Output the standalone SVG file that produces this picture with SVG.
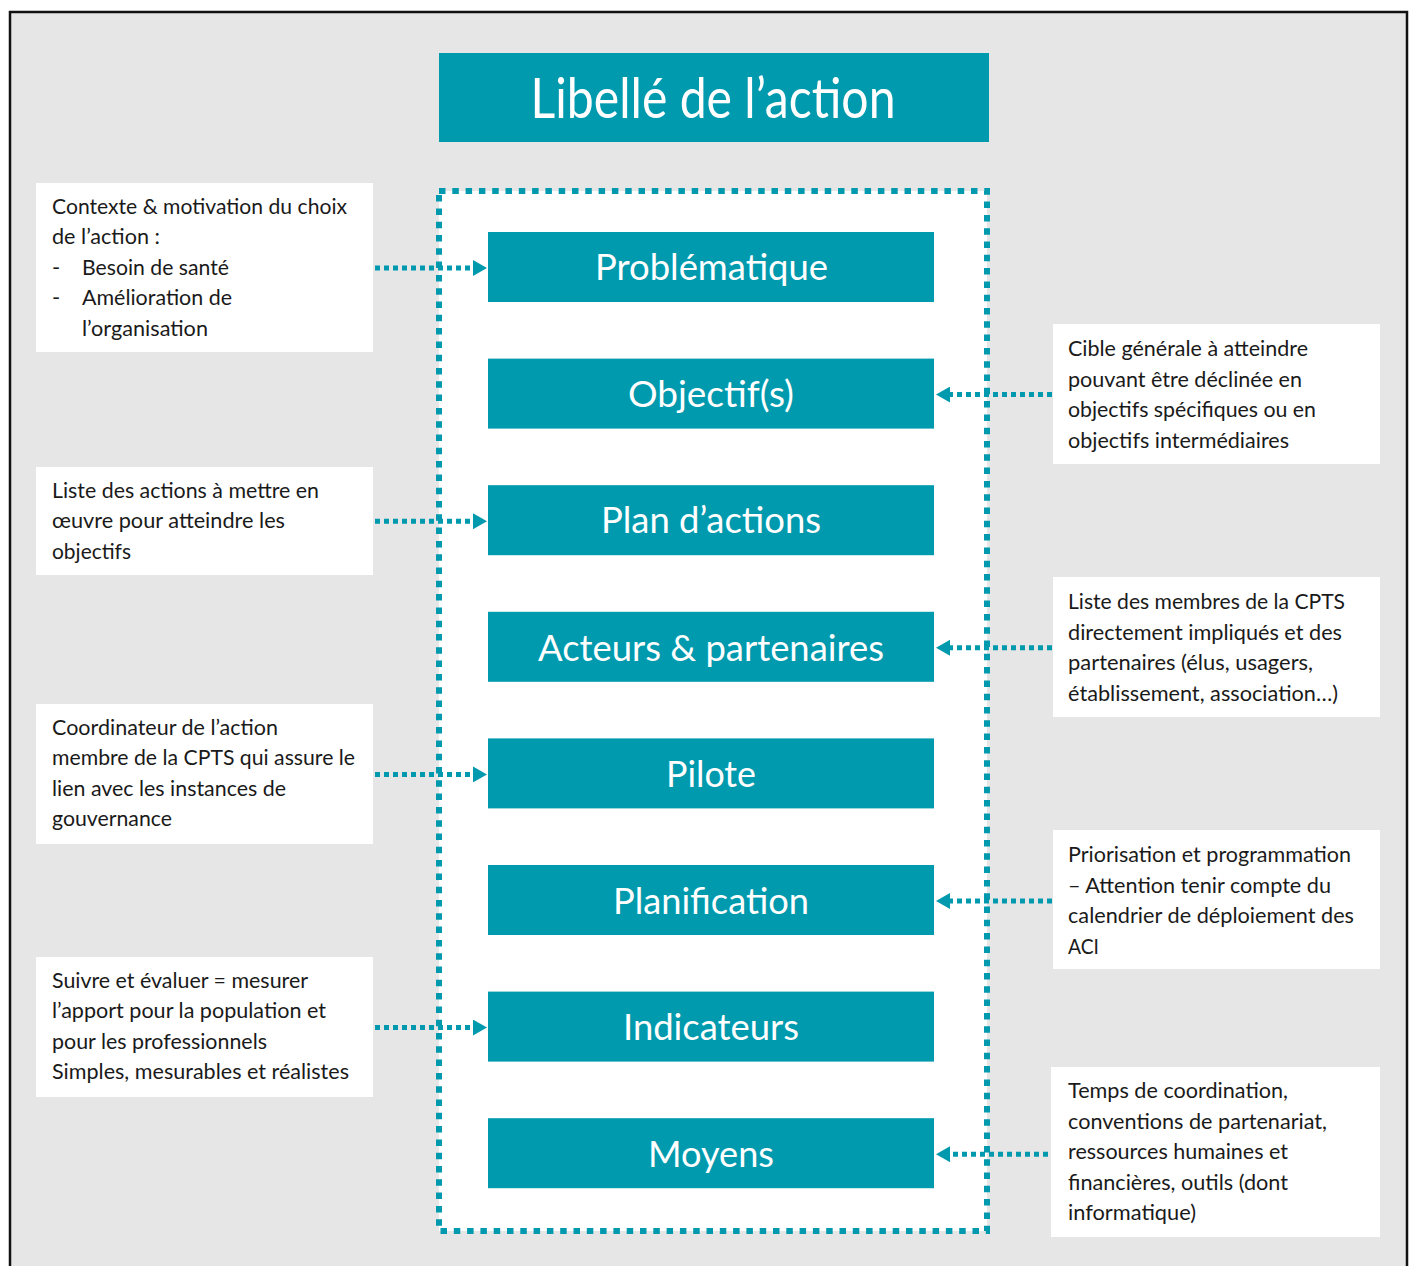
<svg xmlns="http://www.w3.org/2000/svg" width="1412" height="1266" viewBox="0 0 1412 1266">
<style>
.bg{fill:#e6e6e6;stroke:#111;stroke-width:2.5}
.teal{fill:#009aae}
.note{fill:#ffffff}
.lbl{font-family:Lato,"Open Sans",sans-serif;font-size:36px;fill:#ffffff;text-anchor:middle}
.title{font-family:Lato,"Open Sans",sans-serif;font-size:56px;fill:#ffffff;text-anchor:middle}
.nt{font-family:Lato,"Open Sans",sans-serif;font-size:22px;fill:#1a1a1a}
.frame{fill:#ffffff;stroke:#0099ae;stroke-width:6;stroke-dasharray:6.5 6.8}
.conn{fill:none;stroke:#0099ae;stroke-width:5;stroke-dasharray:5 4}
</style>
<defs>
<marker id="ah" viewBox="0 0 14 16" refX="0" refY="8" markerWidth="14" markerHeight="16" markerUnits="userSpaceOnUse" orient="auto">
<path d="M0,0 L14,8 L0,16 z" fill="#0099ae"/>
</marker>
</defs>
<rect x="0" y="0" width="1412" height="1266" fill="#ffffff"/>
<rect class="bg" x="10" y="12" width="1397" height="1270"/>
<rect class="frame" x="439" y="191" width="548" height="1040"/>

<g id="title">
<rect class="teal" x="439" y="53" width="550" height="89"/>
<text class="title" x="713" y="118" textLength="365" lengthAdjust="spacingAndGlyphs">Libellé de l’action</text>
</g>

<g id="problematique">
<rect class="teal" x="488" y="232" width="446" height="70"/>
<text class="lbl" x="711.5" y="280" textLength="233" lengthAdjust="spacingAndGlyphs">Problématique</text>
</g>
<g id="objectifs">
<rect class="teal" x="488" y="358.6" width="446" height="70"/>
<text class="lbl" x="711" y="406.6" textLength="166" lengthAdjust="spacingAndGlyphs">Objectif(s)</text>
</g>
<g id="plan">
<rect class="teal" x="488" y="485.2" width="446" height="70"/>
<text class="lbl" x="711" y="533.2" textLength="220" lengthAdjust="spacingAndGlyphs">Plan d’actions</text>
</g>
<g id="acteurs">
<rect class="teal" x="488" y="611.8" width="446" height="70"/>
<text class="lbl" x="711" y="660.5" textLength="346" lengthAdjust="spacingAndGlyphs">Acteurs &amp; partenaires</text>
</g>
<g id="pilote">
<rect class="teal" x="488" y="738.4" width="446" height="70"/>
<text class="lbl" x="711" y="787" textLength="90" lengthAdjust="spacingAndGlyphs">Pilote</text>
</g>
<g id="planification">
<rect class="teal" x="488" y="865" width="446" height="70"/>
<text class="lbl" x="711" y="913.5" textLength="196" lengthAdjust="spacingAndGlyphs">Planification</text>
</g>
<g id="indicateurs">
<rect class="teal" x="488" y="991.6" width="446" height="70"/>
<text class="lbl" x="711" y="1040" textLength="176" lengthAdjust="spacingAndGlyphs">Indicateurs</text>
</g>
<g id="moyens">
<rect class="teal" x="488" y="1118.2" width="446" height="70"/>
<text class="lbl" x="711" y="1166.7" textLength="126" lengthAdjust="spacingAndGlyphs">Moyens</text>
</g>

<g id="note-contexte">
<rect class="note" x="36" y="183" width="337" height="169"/>
<text class="nt" x="52" y="213.5" textLength="295" lengthAdjust="spacingAndGlyphs">Contexte &amp; motivation du choix</text>
<text class="nt" x="52" y="244.1" textLength="108" lengthAdjust="spacingAndGlyphs">de l’action :</text>
<text class="nt" x="52" y="274.7">-</text>
<text class="nt" x="82" y="274.7" textLength="147" lengthAdjust="spacingAndGlyphs">Besoin de santé</text>
<text class="nt" x="52" y="305.3">-</text>
<text class="nt" x="82" y="305.3" textLength="150" lengthAdjust="spacingAndGlyphs">Amélioration de</text>
<text class="nt" x="82" y="335.9" textLength="126" lengthAdjust="spacingAndGlyphs">l’organisation</text>
</g>
<g id="note-plan">
<rect class="note" x="36" y="467" width="337" height="108"/>
<text class="nt" x="52" y="497.5" textLength="267" lengthAdjust="spacingAndGlyphs">Liste des actions à mettre en</text>
<text class="nt" x="52" y="528.1" textLength="233" lengthAdjust="spacingAndGlyphs">œuvre pour atteindre les</text>
<text class="nt" x="52" y="558.7" textLength="79" lengthAdjust="spacingAndGlyphs">objectifs</text>
</g>
<g id="note-pilote">
<rect class="note" x="36" y="704" width="337" height="140"/>
<text class="nt" x="52" y="734.5" textLength="226" lengthAdjust="spacingAndGlyphs">Coordinateur de l’action</text>
<text class="nt" x="52" y="765.1" textLength="303" lengthAdjust="spacingAndGlyphs">membre de la CPTS qui assure le</text>
<text class="nt" x="52" y="795.7" textLength="234" lengthAdjust="spacingAndGlyphs">lien avec les instances de</text>
<text class="nt" x="52" y="826.3" textLength="120" lengthAdjust="spacingAndGlyphs">gouvernance</text>
</g>
<g id="note-indicateurs">
<rect class="note" x="36" y="957" width="337" height="140"/>
<text class="nt" x="52" y="987.5" textLength="256" lengthAdjust="spacingAndGlyphs">Suivre et évaluer = mesurer</text>
<text class="nt" x="52" y="1018.1" textLength="274" lengthAdjust="spacingAndGlyphs">l’apport pour la population et</text>
<text class="nt" x="52" y="1048.7" textLength="215" lengthAdjust="spacingAndGlyphs">pour les professionnels</text>
<text class="nt" x="52" y="1079.3" textLength="297" lengthAdjust="spacingAndGlyphs">Simples, mesurables et réalistes</text>
</g>

<g id="note-objectifs">
<rect class="note" x="1053" y="324" width="327" height="140"/>
<text class="nt" x="1068" y="356" textLength="240" lengthAdjust="spacingAndGlyphs">Cible générale à atteindre</text>
<text class="nt" x="1068" y="386.6" textLength="234" lengthAdjust="spacingAndGlyphs">pouvant être déclinée en</text>
<text class="nt" x="1068" y="417.2" textLength="248" lengthAdjust="spacingAndGlyphs">objectifs spécifiques ou en</text>
<text class="nt" x="1068" y="447.8" textLength="221" lengthAdjust="spacingAndGlyphs">objectifs intermédiaires</text>
</g>
<g id="note-acteurs">
<rect class="note" x="1053" y="577" width="327" height="140"/>
<text class="nt" x="1068" y="609" textLength="277" lengthAdjust="spacingAndGlyphs">Liste des membres de la CPTS</text>
<text class="nt" x="1068" y="639.6" textLength="274" lengthAdjust="spacingAndGlyphs">directement impliqués et des</text>
<text class="nt" x="1068" y="670.2" textLength="245" lengthAdjust="spacingAndGlyphs">partenaires (élus, usagers,</text>
<text class="nt" x="1068" y="700.8" textLength="270" lengthAdjust="spacingAndGlyphs">établissement, association…)</text>
</g>
<g id="note-planification">
<rect class="note" x="1053" y="830" width="327" height="139"/>
<text class="nt" x="1068" y="862" textLength="283" lengthAdjust="spacingAndGlyphs">Priorisation et programmation</text>
<text class="nt" x="1068" y="892.6" textLength="263" lengthAdjust="spacingAndGlyphs">– Attention tenir compte du</text>
<text class="nt" x="1068" y="923.2" textLength="286" lengthAdjust="spacingAndGlyphs">calendrier de déploiement des</text>
<text class="nt" x="1068" y="953.8" textLength="31" lengthAdjust="spacingAndGlyphs">ACI</text>
</g>
<g id="note-moyens">
<rect class="note" x="1051" y="1067" width="329" height="170"/>
<text class="nt" x="1068" y="1098" textLength="220" lengthAdjust="spacingAndGlyphs">Temps de coordination,</text>
<text class="nt" x="1068" y="1128.6" textLength="259" lengthAdjust="spacingAndGlyphs">conventions de partenariat,</text>
<text class="nt" x="1068" y="1159.2" textLength="220" lengthAdjust="spacingAndGlyphs">ressources humaines et</text>
<text class="nt" x="1068" y="1189.8" textLength="220" lengthAdjust="spacingAndGlyphs">financières, outils (dont</text>
<text class="nt" x="1068" y="1220.4" textLength="128" lengthAdjust="spacingAndGlyphs">informatique)</text>
</g>

<g id="connectors">
<line class="conn" x1="375" y1="268" x2="473" y2="268" marker-end="url(#ah)"/>
<line class="conn" x1="375" y1="521.2" x2="473" y2="521.2" marker-end="url(#ah)"/>
<line class="conn" x1="375" y1="774.4" x2="473" y2="774.4" marker-end="url(#ah)"/>
<line class="conn" x1="375" y1="1027.6" x2="473" y2="1027.6" marker-end="url(#ah)"/>
<line class="conn" x1="1052" y1="394.6" x2="950" y2="394.6" marker-end="url(#ah)"/>
<line class="conn" x1="1052" y1="647.8" x2="950" y2="647.8" marker-end="url(#ah)"/>
<line class="conn" x1="1052" y1="901" x2="950" y2="901" marker-end="url(#ah)"/>
<line class="conn" x1="1048" y1="1154.2" x2="950" y2="1154.2" marker-end="url(#ah)"/>
</g>
</svg>
